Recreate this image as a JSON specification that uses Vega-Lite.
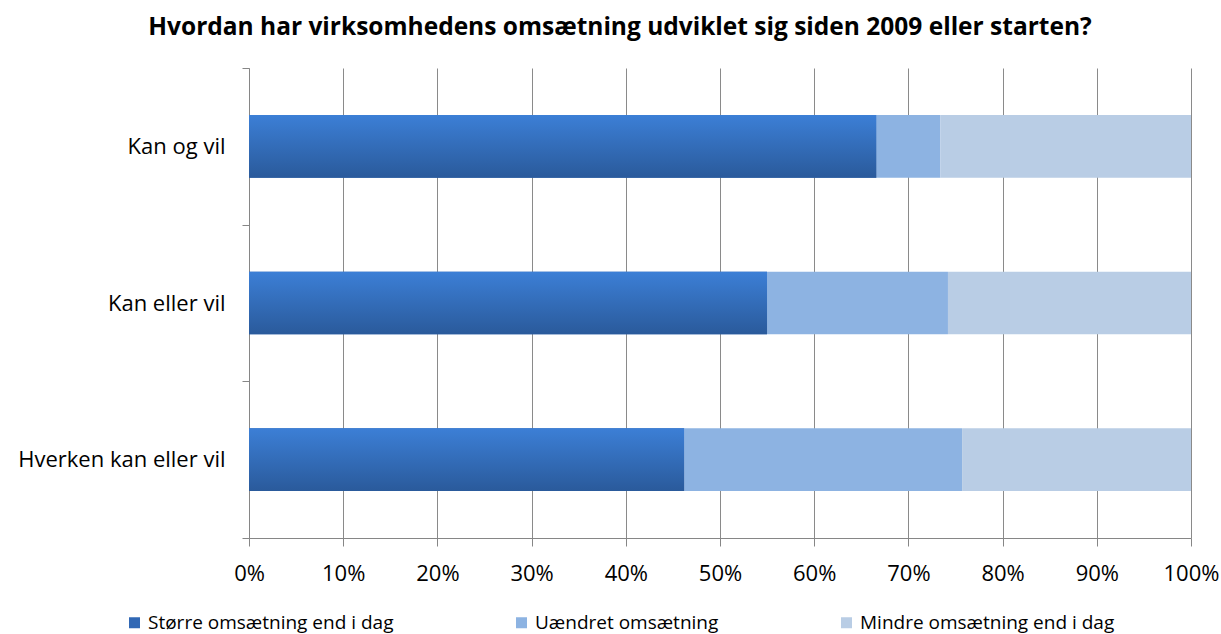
{
  "$schema": "https://vega.github.io/schema/vega-lite/v6.json",
  "width": 942,
  "height": 470,
  "autosize": {"type": "none"},
  "padding": {"left": 249, "top": 68, "right": 30, "bottom": 96},
  "background": "white",
  "title": {
    "text": "Hvordan har virksomhedens omsætning udviklet sig siden 2009 eller starten?",
    "font": "Open Sans",
    "fontSize": 24.5,
    "fontWeight": "bold",
    "color": "#000000",
    "anchor": "middle",
    "frame": "group",
    "dx": -100,
    "offset": 17
  },
  "data": {
    "values": [
      {"gruppe": "Kan og vil", "svar": "Større omsætning end i dag", "k": 1, "andel": 0.666},
      {"gruppe": "Kan og vil", "svar": "Uændret omsætning", "k": 2, "andel": 0.068},
      {"gruppe": "Kan og vil", "svar": "Mindre omsætning end i dag", "k": 3, "andel": 0.266},
      {"gruppe": "Kan eller vil", "svar": "Større omsætning end i dag", "k": 1, "andel": 0.550},
      {"gruppe": "Kan eller vil", "svar": "Uændret omsætning", "k": 2, "andel": 0.192},
      {"gruppe": "Kan eller vil", "svar": "Mindre omsætning end i dag", "k": 3, "andel": 0.258},
      {"gruppe": "Hverken kan eller vil", "svar": "Større omsætning end i dag", "k": 1, "andel": 0.462},
      {"gruppe": "Hverken kan eller vil", "svar": "Uændret omsætning", "k": 2, "andel": 0.295},
      {"gruppe": "Hverken kan eller vil", "svar": "Mindre omsætning end i dag", "k": 3, "andel": 0.243}
    ]
  },
  "encoding": {
    "y": {
      "field": "gruppe",
      "type": "nominal",
      "sort": ["Kan og vil", "Kan eller vil", "Hverken kan eller vil"],
      "scale": {"paddingInner": 0, "paddingOuter": 0},
      "axis": {
        "title": null,
        "domainColor": "#868686",
        "tickColor": "#868686",
        "tickBand": "extent",
        "tickSize": 7,
        "labelPadding": 17,
        "labelFont": "Open Sans",
        "labelFontSize": 22,
        "labelLimit": 300,
        "labelColor": "#000000",
        "grid": false
      }
    },
    "x": {
      "field": "andel",
      "type": "quantitative",
      "stack": "zero",
      "scale": {"domain": [0, 1], "nice": false},
      "axis": {
        "title": null,
        "format": ".0%",
        "values": [0, 0.1, 0.2, 0.3, 0.4, 0.5, 0.6, 0.7, 0.8, 0.9, 1],
        "grid": true,
        "gridColor": "#8a8a8a",
        "gridOpacity": 1,
        "domainColor": "#868686",
        "tickColor": "#868686",
        "tickSize": 8,
        "labelPadding": 17,
        "labelFont": "Open Sans",
        "labelFontSize": 22,
        "labelColor": "#000000",
        "labelFlush": false
      }
    },
    "order": {"field": "k", "type": "quantitative"}
  },
  "layer": [
    {
      "mark": {"type": "bar", "height": {"band": 0.4}},
      "encoding": {
        "color": {
          "field": "svar",
          "type": "nominal",
          "scale": {
            "domain": ["Større omsætning end i dag", "Uændret omsætning", "Mindre omsætning end i dag"],
            "range": ["#3168b5", "#8db3e2", "#b9cde5"]
          },
          "legend": {
            "title": null,
            "orient": "none",
            "direction": "horizontal",
            "legendX": -124,
            "legendY": 545,
            "symbolType": "square",
            "symbolSize": 121,
            "symbolStrokeWidth": 0,
            "labelFont": "Open Sans",
            "labelFontSize": 19,
            "labelColor": "#000000",
            "labelOffset": 4,
            "columnPadding": 118,
            "labelLimit": 400
          }
        }
      }
    },
    {
      "transform": [{"filter": "datum.k == 1"}],
      "mark": {
        "type": "bar",
        "height": {"band": 0.4},
        "color": {
          "gradient": "linear",
          "x1": 0, "y1": 0, "x2": 0, "y2": 1,
          "stops": [
            {"offset": 0, "color": "#3c7fd6"},
            {"offset": 1, "color": "#2a5a9b"}
          ]
        }
      }
    }
  ],
  "config": {
    "view": {"stroke": null}
  }
}
